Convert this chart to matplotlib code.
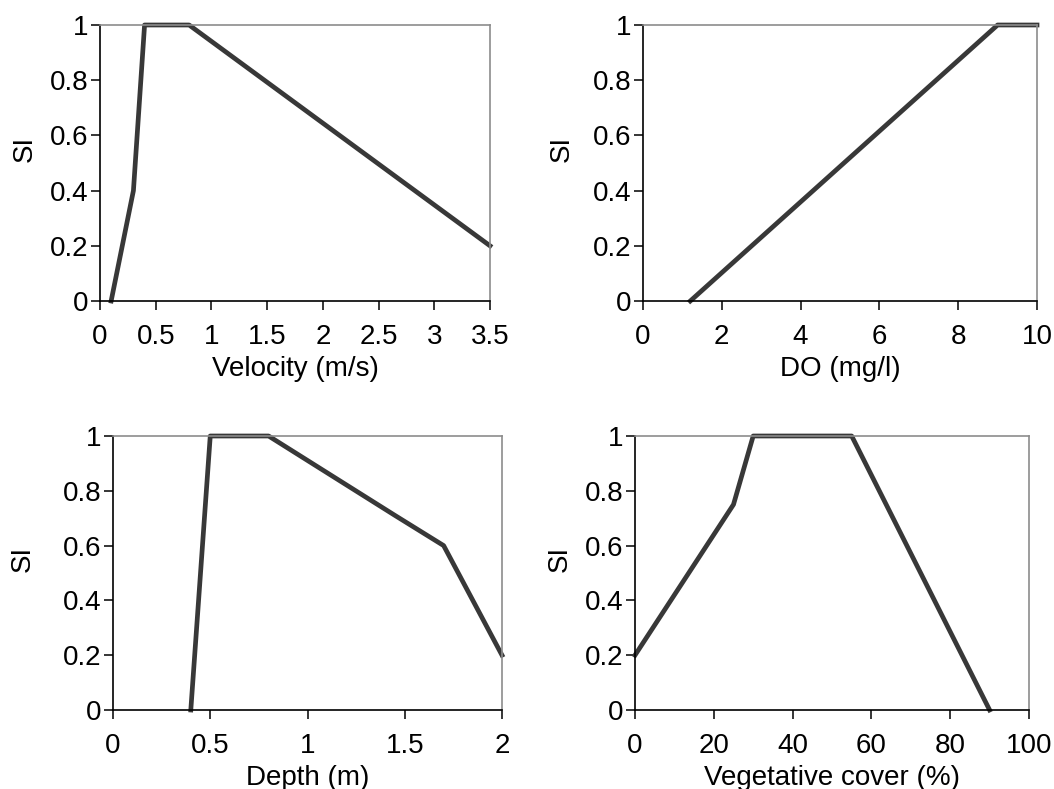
import matplotlib
matplotlib.use('Agg')
import matplotlib.pyplot as plt

plt.rcParams['font.family'] = ['Liberation Sans', 'DejaVu Sans']

# suitability index curves
vel_x = [0.1, 0.3, 0.4, 0.8, 3.5]
vel_y = [0, 0.4, 1, 1, 0.2]
do_x = [1.2, 9, 10]
do_y = [0, 1, 1]
depth_x = [0.4, 0.5, 0.8, 1.45, 1.7, 2]
depth_y = [0, 1, 1, 0.71, 0.6, 0.2]
veg_x = [0, 25, 30, 55, 90]
veg_y = [0.2, 0.75, 1, 1, 0]

vel_ticks = [0, 0.5, 1, 1.5, 2, 2.5, 3, 3.5]
do_ticks = [0, 2, 4, 6, 8, 10]
depth_ticks = [0, 0.5, 1, 1.5, 2]
veg_ticks = [0, 20, 40, 60, 80, 100]
si_ticks = [0, 0.2, 0.4, 0.6, 0.8, 1]

W, H = 1054, 789
fig = plt.figure(figsize=(W / 100, H / 100), dpi=100)

panels = [
    # (left, top, right, bottom) in px, x, y, ticks, xlabel, ylabel offset px
    ((100, 25, 490, 301), vel_x, vel_y, vel_ticks, 'Velocity (m/s)', 75),
    ((643, 25, 1037, 301), do_x, do_y, do_ticks, 'DO (mg/l)', 81),
    ((113, 436, 502, 710), depth_x, depth_y, depth_ticks, 'Depth (m)', 90),
    ((635, 436, 1029, 710), veg_x, veg_y, veg_ticks, 'Vegetative cover (%)', 75),
]

fs = 20
for (l, t, r, b), x, y, ticks, xlab, yoff in panels:
    ax = fig.add_axes([l / W, 1 - b / H, (r - l) / W, (b - t) / H])
    ax.plot(x, y, color='#383838', linewidth=3.4, clip_on=False)
    ax.set_xlim(ticks[0], ticks[-1])
    ax.set_ylim(0, 1)
    ax.set_xticks(ticks)
    ax.set_xticklabels(['%g' % v for v in ticks])
    ax.set_yticks(si_ticks)
    ax.set_yticklabels(['%g' % v for v in si_ticks])
    ax.tick_params(axis='both', direction='out', length=6.5, width=1.1, labelsize=fs, colors='black')
    ax.tick_params(axis='x', pad=10)
    ax.tick_params(axis='y', pad=2)
    for s in ['left', 'bottom']:
        ax.spines[s].set_color('black')
        ax.spines[s].set_linewidth(1.2)
    for s in ['top', 'right']:
        ax.spines[s].set_color('#8c8c8c')
        ax.spines[s].set_linewidth(1.2)
    ax.set_xlabel(xlab, fontsize=fs)
    ax.xaxis.set_label_coords(0.5, -68 / (b - t))
    ax.xaxis.label.set_va('center')
    ax.set_ylabel('SI', fontsize=fs)
    ax.yaxis.set_label_coords(-yoff / (r - l), 0.55)
    ax.yaxis.label.set_va('center')

fig.savefig('out.png', dpi=100)
